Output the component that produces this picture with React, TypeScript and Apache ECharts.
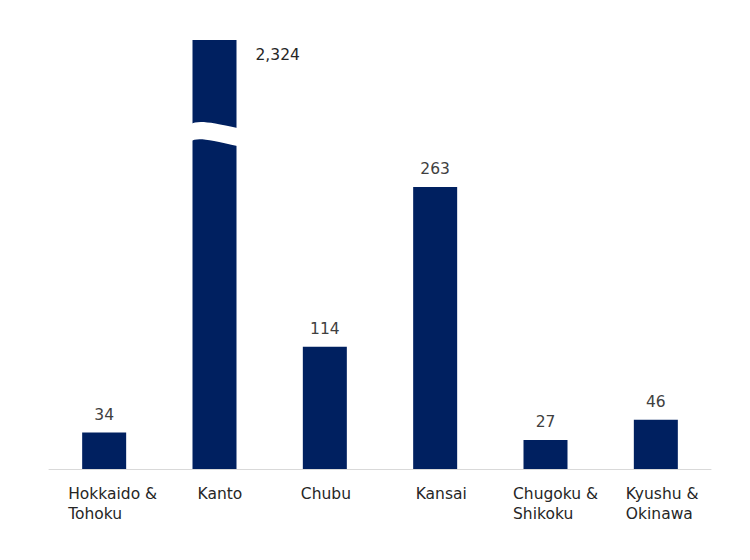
import * as echarts from "echarts";
import { useEffect, useRef } from "react";

const regions = [
  "Hokkaido &\nTohoku",
  "Kanto",
  "Chubu",
  "Kansai",
  "Chugoku &\nShikoku",
  "Kyushu &\nOkinawa",
];
const counts = [34, 2324, 114, 263, 27, 46];
// value axis is cut at this height; taller bars get a break mark
const axisMax = 400;
const breakAt = 313;
// left-aligned label blocks: block width per category
const labelWidths = [72, 34, 48, 39, 65, 60];

const BAR = "#002060";
const FONT = "DejaVu Sans";

// wavy white band used as the axis-break mark (local coords, bar left = 0)
echarts.graphic.registerShape(
  "barBreak",
  echarts.graphic.extendPath(
    "M-2,-9 C5,-13 15,-12 46,-5 L46,13 C15,6 5,4 -2,8 Z",
    {}
  )
);

export default function App() {
  const ref = useRef<HTMLDivElement>(null);

  useEffect(() => {
    if (!ref.current) return;
    const chart = echarts.init(ref.current, null, { renderer: "svg" });

    const rich: Record<string, object> = {};
    labelWidths.forEach((w, i) => {
      rich["c" + i] = {
        width: w,
        align: "left",
        fontSize: 15.5,
        lineHeight: 20,
        fontFamily: FONT,
        color: "#262626",
      };
    });

    const data = counts.map((v) => {
      if (v <= axisMax) return v;
      return {
        value: axisMax,
        label: {
          position: [63, 15],
          align: "left",
          verticalAlign: "middle",
          color: "#262626",
        },
      };
    });

    chart.setOption({
      animation: false,
      grid: { left: 49, right: 39, top: 40, bottom: 91 },
      xAxis: {
        type: "category",
        data: regions,
        axisLine: { lineStyle: { color: "#d9d9d9", width: 1 } },
        axisTick: { show: false },
        axisLabel: {
          interval: 0,
          margin: 15,
          formatter: (v: string, i: number) =>
            v
              .split("\n")
              .map((l) => `{c${i}|${l}}`)
              .join("\n"),
          rich,
        },
      },
      yAxis: {
        type: "value",
        min: 0,
        max: axisMax,
        show: false,
        splitLine: { show: false },
      },
      series: [
        {
          type: "bar",
          data,
          barWidth: 44,
          itemStyle: { color: BAR },
          label: {
            show: true,
            position: "top",
            distance: 10,
            fontSize: 15.5,
            fontFamily: FONT,
            color: "#404040",
            formatter: (p: { dataIndex: number }) =>
              counts[p.dataIndex].toLocaleString("en-US"),
          },
        },
      ],
    });

    // place break marks on bars taller than the axis
    const marks = counts
      .map((v, i) => {
        if (v <= axisMax) return null;
        const [cx, cy] = chart.convertToPixel({ gridIndex: 0 }, [i, breakAt]);
        return {
          type: "barBreak",
          x: cx - 22,
          y: cy,
          z: 100,
          style: { fill: "#ffffff" },
        };
      })
      .filter(Boolean);
    chart.setOption({ graphic: marks });

    return () => chart.dispose();
  }, []);

  return (
    <div
      ref={ref}
      style={{ position: "fixed", left: 0, top: 0, width: 750, height: 560, background: "#fff" }}
    />
  );
}
